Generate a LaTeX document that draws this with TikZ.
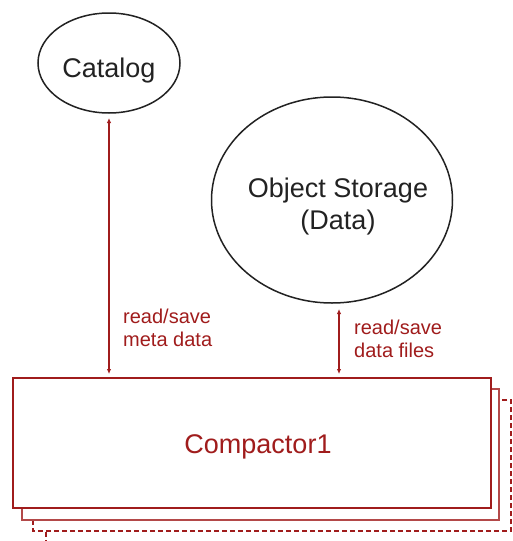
\documentclass[tikz,border=0pt]{standalone}
\usepackage{fontspec}
\setmainfont{Liberation Sans}
\usetikzlibrary{shapes.geometric,arrows.meta}
\definecolor{darkred}{HTML}{A01C1C}
\definecolor{ink}{HTML}{222222}
\tikzset{
  store/.style={ellipse,draw=ink,line width=1.5pt,inner sep=0pt},
  storetext/.style={text=ink,font=\fontsize{27}{32}\selectfont,align=center,inner sep=0pt},
  worker/.style={draw=darkred,line width=1.5pt,fill=white},
  link/.style={darkred,line width=1.4pt,{Latex[length=5pt,width=4.5pt]}-{Latex[length=5pt,width=4.5pt]}},
  tag/.style={text=darkred,font=\fontsize{20}{22.5}\selectfont,align=left,inner sep=0pt,anchor=north west}
}
\begin{document}
\begin{tikzpicture}[x=1pt,y=-1pt]
\useasboundingbox (0,0) rectangle (512,541);
\clip (0,0) rectangle (512,541);
% stacked compactor instances, back to front
\draw[worker,dashed,dash pattern=on 5pt off 3pt] (46,412) rectangle (530,560);
\draw[worker,dashed,dash pattern=on 5pt off 3pt] (33,400) rectangle (511,531);
\draw[worker,draw=darkred!80] (22,389) rectangle (499,520);
\node[worker,minimum width=478pt,minimum height=130pt,inner sep=0pt,anchor=north west] (comp) at (12,377) {};
\node[text=darkred,font=\fontsize{27}{31}\selectfont,inner sep=0pt] (complbl) at (258,447) {Compactor1};
% storage services
\node[store,minimum width=142pt,minimum height=100pt] (catalog) at (109,63) {};
\node[storetext] (catlbl) at (109,71) {Catalog};
\node[store,minimum width=241pt,minimum height=206pt] (objstore) at (332,200) {};
\node[storetext] (objlbl) at (338,207) {Object Storage\\(Data)};
% connections
\coordinate (catTop) at (109,118);
\coordinate (catBot) at (109,374);
\coordinate (objTop) at (339,309);
\coordinate (objBot) at (339,374);
\draw[link] (catTop) -- (catBot);
\draw[link] (objTop) -- (objBot);
\node[tag] (lblmeta) at (123,309) {read/save\\meta data};
\node[tag] (lbldata) at (354,320) {read/save\\data files};
\end{tikzpicture}
\end{document}
